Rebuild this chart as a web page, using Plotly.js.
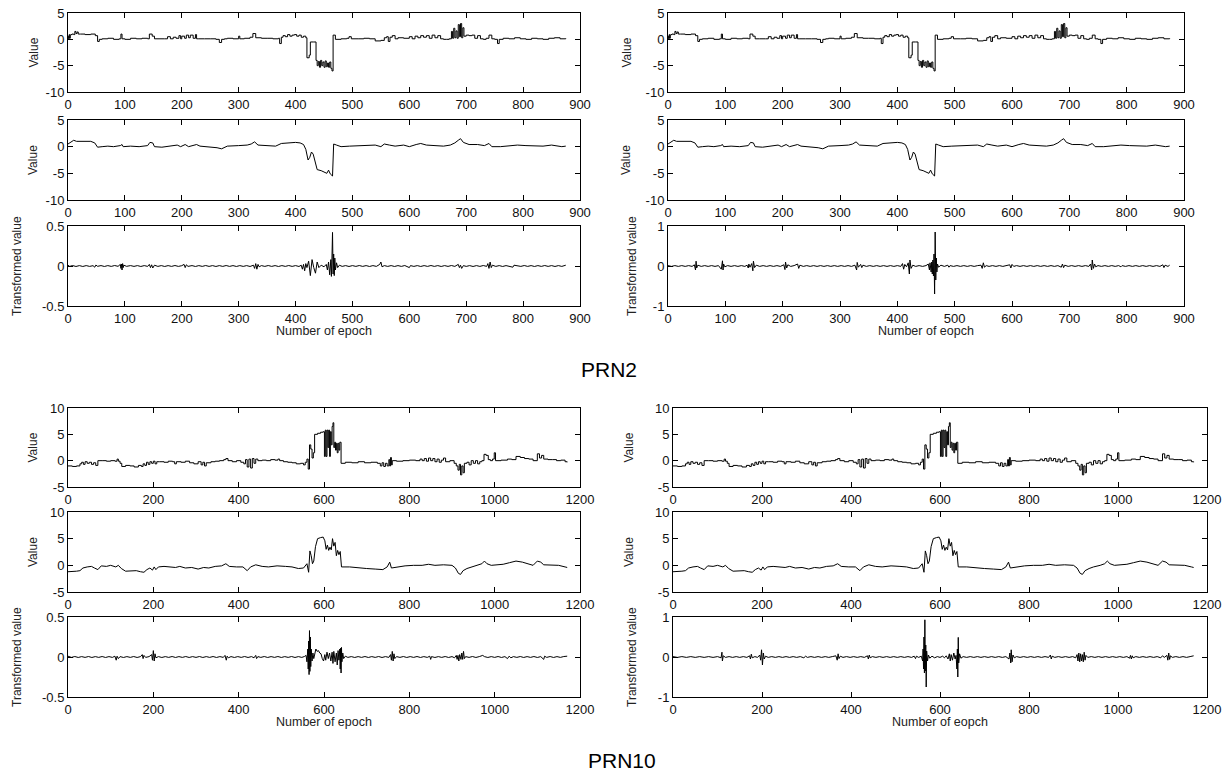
<!DOCTYPE html>
<html>
<head>
<meta charset="utf-8">
<script src="https://cdn.plot.ly/plotly-3.0.1.min.js"></script>
<style>html,body{margin:0;padding:0;background:#fff;}#chart{width:1225px;height:772px;}</style>
</head>
<body>
<div id="chart"></div>
<script>
// ---------- DATA ----------
// PRN2 raw values (epoch, value) – step-like
const prn2Raw = [[0,0.6],[1,0.1],[2,0.9],[3,0.2],[4,0.8],[5,0.9],[7,1.0],[10,0.9],[12,1.5],[14,1.1],[16,1.4],[18,1.0],[22,1.0],[30,0.9],[40,1.0],[48,0.7],[52,-0.4],[55,0.0],[60,0.1],[70,0.2],[80,0.0],[90,0.1],[93,1.0],[95,0.1],[100,0.0],[110,0.2],[120,0.1],[130,0.2],[140,0.1],[143,1.0],[148,0.6],[152,0.1],[160,0.1],[170,0.1],[175,0.5],[180,0.1],[185,0.4],[190,0.2],[195,0.7],[198,0.1],[200,0.6],[205,0.2],[208,0.8],[212,0.3],[215,0.8],[220,0.2],[224,0.9],[226,0.1],[230,0.1],[240,0.1],[250,0.1],[260,0.0],[266,-0.6],[270,0.0],[275,0.1],[280,0.2],[290,0.1],[300,0.6],[302,0.1],[310,0.2],[320,0.4],[325,1.1],[330,0.3],[340,0.2],[350,0.2],[360,0.1],[370,0.2],[372,-0.8],[375,0.4],[378,0.7],[382,0.5],[386,0.9],[390,0.6],[394,0.8],[398,0.9],[402,0.6],[406,0.8],[410,0.4],[414,0.6],[418,0.3],[420,-3.5],[424,-3.0],[426,-0.5],[432,-0.5],[436,-4.0],[438,-5.0],[440,-4.2],[442,-5.3],[444,-4.0],[446,-5.0],[448,-4.3],[450,-5.3],[452,-4.1],[454,-5.2],[456,-4.5],[458,-5.3],[460,-4.3],[462,-5.5],[464,-6.0],[466,0.8],[470,0.0],[480,0.1],[490,0.2],[494,0.5],[498,0.1],[510,0.1],[520,0.2],[530,0.1],[540,-0.3],[550,-0.2],[556,0.3],[560,0.5],[563,-0.4],[566,0.4],[570,0.7],[575,0.1],[580,0.3],[590,0.2],[600,0.5],[605,0.1],[610,0.6],[615,0.3],[620,0.7],[625,0.4],[630,0.7],[635,0.2],[640,0.8],[645,0.3],[650,0.7],[655,0.1],[660,0.0],[665,0.0],[670,0.1],[674,1.5],[676,0.2],[678,2.1],[680,0.3],[682,1.6],[684,0.2],[686,2.8],[688,0.5],[690,3.0],[692,0.3],[694,2.2],[696,0.6],[700,0.8],[705,0.7],[710,0.8],[715,0.2],[720,0.7],[725,0.1],[730,0.0],[735,0.2],[740,0.8],[745,0.1],[750,0.0],[755,-0.8],[758,0.0],[765,0.2],[775,0.1],[785,0.3],[795,0.1],[805,0.0],[815,0.2],[825,0.1],[835,0.0],[845,0.2],[855,0.3],[865,0.1],[875,0.2]];

// PRN2 smoothed values
const prn2Smooth = [[0,0.5],[5,0.9],[10,1.2],[15,1.0],[20,1.0],[30,0.9],[40,1.0],[47,0.7],[52,-0.1],[60,0.0],[70,0.1],[80,0.0],[92,0.2],[95,0.4],[97,0.0],[110,0.1],[125,0.0],[140,0.2],[144,0.8],[149,0.7],[152,0.0],[165,-0.1],[180,0.2],[192,0.3],[198,0.0],[206,0.4],[212,0.0],[220,0.3],[226,0.4],[232,0.1],[250,0.0],[262,-0.2],[270,-0.4],[280,0.1],[300,0.2],[315,0.3],[322,0.5],[328,0.9],[334,0.3],[350,0.2],[365,0.1],[375,0.6],[388,0.7],[400,0.8],[408,0.7],[414,0.4],[418,-0.5],[422,-2.5],[425,-2.0],[428,-1.0],[431,-1.4],[434,-2.8],[438,-4.3],[445,-4.5],[450,-4.8],[455,-5.0],[458,-4.4],[461,-5.1],[465,-5.5],[467,0.5],[472,0.3],[480,0.0],[495,0.1],[510,0.2],[525,0.3],[540,0.3],[550,0.0],[556,0.5],[565,0.3],[575,0.1],[590,0.3],[600,0.0],[612,0.4],[620,0.6],[630,0.3],[645,0.2],[660,0.1],[672,0.3],[680,0.7],[686,1.2],[690,1.5],[695,0.8],[705,0.4],[720,0.4],[732,0.2],[740,0.6],[745,0.0],[760,0.0],[775,0.2],[790,0.3],[805,0.2],[820,0.1],[835,0.1],[850,0.3],[860,0.2],[868,0.0],[875,0.1]];

// PRN2 transformed values (left panel)
const prn2TransL = [[0,0.01],[3,-0.005],[8,0.006],[14,-0.006],[20,0.005],[26,-0.006],[32,0.005],[38,-0.005],[44,0.004],[47,-0.015],[49,0.012],[52,-0.004],[58,0.005],[64,-0.006],[70,0.005],[76,-0.005],[82,0.006],[88,-0.004],[92,0.02],[93,-0.03],[94,0.025],[95,-0.05],[96,0.03],[97,-0.02],[98,0.01],[103,-0.004],[110,0.005],[116,-0.005],[122,0.005],[128,-0.006],[134,0.005],[140,-0.005],[143,0.02],[145,-0.02],[147,0.015],[149,-0.025],[152,0.01],[158,-0.005],[164,0.005],[170,-0.006],[176,0.005],[182,-0.005],[188,0.006],[194,-0.005],[200,0.004],[204,0.02],[206,-0.02],[208,0.015],[211,-0.005],[218,0.005],[224,-0.006],[230,0.005],[236,-0.005],[242,0.006],[248,-0.005],[254,0.005],[260,-0.006],[266,0.005],[272,-0.005],[278,0.006],[284,-0.005],[290,0.005],[296,-0.006],[302,0.005],[308,-0.005],[314,0.005],[320,-0.006],[326,0.01],[328,-0.03],[330,0.03],[332,-0.04],[334,0.02],[336,-0.01],[340,0.005],[346,-0.005],[352,0.006],[358,-0.005],[364,0.005],[370,-0.006],[376,0.005],[382,-0.005],[388,0.006],[394,-0.005],[400,0.005],[406,-0.006],[410,0.01],[412,-0.04],[414,0.02],[416,-0.06],[418,0.03],[420,-0.02],[423,0.06],[426,-0.12],[429,0.08],[432,-0.02],[435,-0.09],[438,0.05],[441,-0.02],[445,0.01],[450,-0.01],[454,0.02],[456,-0.05],[458,0.05],[460,-0.11],[462,0.08],[463,-0.13],[464,0.1],[465,0.42],[466,-0.1],[467,0.15],[468,-0.12],[469,0.1],[470,-0.05],[472,0.04],[474,-0.02],[477,0.01],[482,-0.005],[488,0.005],[494,-0.006],[500,0.005],[506,-0.005],[512,0.006],[518,-0.005],[524,0.005],[530,-0.006],[536,0.005],[542,-0.005],[548,0.02],[550,0.05],[552,-0.01],[556,0.005],[562,-0.005],[568,0.005],[574,-0.006],[580,0.005],[586,-0.005],[592,0.006],[598,-0.01],[600,-0.02],[602,0.005],[608,-0.005],[614,0.005],[620,-0.006],[626,0.005],[632,-0.005],[638,0.006],[644,-0.005],[650,0.005],[656,-0.006],[662,0.005],[668,-0.005],[674,0.006],[680,-0.005],[686,0.02],[688,-0.02],[690,0.01],[692,-0.03],[695,0.005],[700,-0.005],[706,0.005],[712,-0.006],[718,0.005],[724,-0.005],[730,0.006],[736,-0.005],[738,0.03],[740,-0.03],[742,0.05],[744,-0.02],[746,0.01],[752,-0.005],[758,0.005],[764,-0.006],[770,0.005],[776,-0.005],[782,-0.015],[784,0.01],[790,0.005],[796,-0.005],[802,0.006],[808,-0.005],[814,0.005],[820,-0.006],[826,0.005],[832,-0.005],[838,0.006],[844,-0.005],[850,0.005],[856,-0.006],[862,0.005],[868,-0.005],[875,0.01]];

// PRN2 transformed values (right panel)
const prn2TransR = [[0,0.01],[6,-0.01],[12,0.01],[18,-0.01],[24,0.01],[30,-0.01],[36,0.01],[42,-0.01],[46,0.03],[48,-0.1],[49,0.12],[50,-0.05],[52,0.02],[58,-0.01],[64,0.01],[70,-0.01],[76,0.01],[82,-0.01],[88,0.01],[93,-0.08],[95,0.13],[96,-0.1],[97,0.05],[99,-0.02],[104,0.01],[110,-0.01],[116,0.01],[122,-0.01],[128,0.01],[134,-0.01],[138,0.02],[140,-0.05],[141,0.05],[143,-0.03],[146,0.06],[148,-0.12],[149,0.12],[151,-0.04],[154,0.02],[160,-0.01],[166,0.01],[172,-0.01],[178,0.01],[184,-0.01],[190,0.01],[196,-0.01],[202,0.03],[204,-0.09],[205,0.1],[207,-0.05],[209,0.03],[214,-0.01],[220,0.01],[226,0.05],[228,-0.06],[230,0.02],[236,-0.01],[242,0.01],[248,-0.01],[254,0.01],[260,-0.01],[266,0.01],[272,-0.01],[278,0.01],[284,-0.01],[290,0.01],[296,-0.01],[302,0.01],[308,-0.01],[314,0.01],[320,-0.01],[326,0.02],[329,-0.1],[330,0.09],[332,-0.03],[336,0.04],[338,-0.04],[340,0.02],[346,-0.01],[352,0.01],[358,-0.01],[364,0.01],[370,-0.01],[376,0.01],[382,-0.01],[388,0.01],[394,-0.01],[400,0.01],[406,-0.01],[409,0.06],[411,-0.08],[413,0.04],[416,-0.02],[419,0.08],[421,-0.2],[422,0.15],[424,-0.06],[427,0.02],[432,-0.01],[438,0.01],[444,-0.01],[450,0.01],[454,0.05],[456,-0.1],[457,0.08],[459,-0.15],[460,0.1],[461,-0.2],[462,0.15],[463,-0.25],[464,0.3],[465,-0.7],[466,0.85],[467,-0.35],[468,0.2],[469,-0.15],[470,0.05],[472,-0.03],[476,0.02],[482,-0.01],[488,0.02],[490,-0.03],[492,0.01],[498,-0.01],[504,0.01],[510,-0.01],[516,0.01],[522,-0.01],[528,0.01],[534,-0.01],[540,0.01],[546,0.02],[548,-0.06],[550,0.08],[552,-0.03],[555,0.01],[560,-0.01],[566,0.01],[572,-0.01],[578,0.01],[584,-0.01],[590,0.01],[596,0.03],[598,-0.05],[600,0.04],[603,-0.01],[608,0.01],[614,-0.01],[620,0.01],[626,-0.01],[632,0.01],[638,-0.01],[644,0.01],[650,-0.01],[656,0.01],[662,-0.01],[668,0.01],[674,-0.01],[680,0.01],[686,-0.03],[688,0.05],[690,-0.04],[692,0.02],[698,-0.01],[704,0.01],[710,-0.01],[716,0.01],[722,-0.01],[728,0.01],[734,-0.01],[737,0.05],[739,-0.1],[740,0.15],[742,-0.06],[744,0.05],[746,-0.02],[750,0.01],[756,-0.01],[762,0.01],[768,-0.01],[774,0.01],[780,-0.01],[786,0.01],[790,-0.02],[792,0.01],[798,-0.01],[804,0.01],[810,-0.01],[816,0.01],[822,-0.01],[828,0.01],[834,-0.01],[840,0.01],[846,-0.01],[852,0.01],[858,-0.01],[863,0.03],[865,-0.04],[867,0.02],[872,-0.01],[875,0.02]];

// PRN10 raw values – step-like
const prn10Raw = [[0,-1.0],[10,-1.1],[20,-1.0],[28,-0.6],[32,-0.3],[36,-0.7],[40,-0.2],[45,-0.5],[50,-0.3],[55,-0.7],[60,-0.4],[65,-0.9],[70,0.0],[80,0.0],[90,-0.1],[100,0.0],[110,-0.1],[115,0.3],[118,-0.1],[122,-0.5],[126,-1.1],[135,-0.9],[145,-1.0],[155,-1.2],[165,-0.9],[172,-1.1],[176,-0.6],[180,-0.9],[184,-0.3],[188,-0.7],[192,-0.2],[196,-0.5],[200,-0.1],[204,-0.6],[208,-0.2],[215,-0.2],[225,-0.3],[235,-0.1],[245,-0.2],[250,-0.6],[254,-0.2],[265,-0.3],[275,-0.1],[285,-0.4],[295,-0.6],[305,-0.2],[312,-0.8],[316,-0.3],[320,-1.0],[324,-0.4],[335,-0.2],[345,-0.1],[355,0.0],[365,0.2],[370,0.4],[375,0.0],[385,-0.2],[395,0.0],[405,-0.3],[412,-0.6],[416,0.2],[420,-1.2],[424,0.3],[428,-1.4],[432,0.4],[436,-0.5],[440,0.3],[445,0.0],[455,0.1],[465,0.0],[475,0.2],[485,0.1],[492,0.3],[496,0.0],[505,-0.2],[515,-0.3],[525,-0.4],[535,-0.6],[545,-0.5],[552,-0.8],[556,-0.3],[560,0.3],[563,-1.6],[566,3.0],[569,2.2],[572,0.5],[575,1.5],[578,5.0],[585,5.2],[592,5.4],[598,5.5],[601,0.8],[603,5.8],[605,0.8],[607,5.8],[609,2.5],[611,5.8],[613,0.8],[615,5.5],[617,3.0],[619,6.5],[621,7.2],[623,2.5],[625,3.5],[627,2.0],[629,3.3],[631,1.5],[633,3.3],[635,2.0],[637,3.5],[640,-0.5],[650,-0.3],[665,-0.4],[680,-0.2],[695,-0.4],[710,-0.3],[725,-0.5],[732,-1.0],[736,-0.4],[740,-1.1],[744,-0.5],[748,-1.0],[752,0.2],[754,-1.0],[756,0.6],[758,-0.8],[760,0.0],[770,-0.1],[785,0.0],[800,0.1],[815,0.0],[825,0.3],[830,0.0],[835,0.4],[840,-0.1],[845,0.5],[850,0.0],[855,0.4],[860,-0.2],[865,0.3],[870,-0.3],[875,0.1],[880,0.5],[885,-0.2],[895,0.0],[905,-0.5],[910,-1.0],[914,-1.8],[917,-0.7],[920,-2.7],[923,-1.0],[926,-2.3],[929,-0.5],[935,-0.3],[940,-0.8],[945,0.0],[950,-0.5],[955,0.0],[960,-0.6],[965,-0.2],[970,0.0],[975,1.2],[980,1.0],[985,0.2],[990,0.0],[995,0.3],[999,1.5],[1002,0.0],[1015,0.1],[1030,0.3],[1040,0.2],[1050,0.8],[1060,0.6],[1070,0.4],[1080,0.3],[1090,0.0],[1100,1.3],[1105,0.5],[1110,1.0],[1115,0.3],[1125,0.2],[1135,0.2],[1145,0.0],[1155,0.1],[1165,-0.2],[1170,-0.3]];

// PRN10 smoothed values
const prn10Smooth = [[0,-1.2],[10,-1.2],[20,-1.1],[28,-1.0],[35,-0.5],[45,-0.3],[55,-0.2],[62,-0.5],[70,-0.8],[78,-0.1],[90,-0.2],[100,0.0],[112,-0.3],[118,0.0],[125,-0.6],[135,-1.1],[150,-1.1],[160,-1.0],[170,-1.2],[178,-1.3],[185,-0.8],[192,-0.5],[198,-0.9],[202,-0.3],[206,-0.8],[212,-0.3],[225,-0.2],[240,-0.3],[252,-0.4],[262,-0.2],[275,-0.5],[290,-0.4],[305,-0.7],[318,-0.4],[330,-0.5],[345,-0.2],[360,-0.1],[370,0.3],[378,-0.2],[395,-0.3],[410,-0.3],[420,-1.0],[428,-0.3],[440,0.1],[455,-0.2],[470,-0.3],[490,-0.1],[510,-0.2],[525,-0.3],[540,-0.6],[552,-0.5],[560,0.3],[564,-1.3],[567,2.7],[570,1.8],[573,0.3],[576,0.8],[580,3.5],[585,5.0],[592,5.2],[598,5.3],[602,4.6],[605,3.0],[608,3.8],[611,2.8],[614,3.4],[617,2.9],[620,5.0],[623,3.6],[626,4.3],[629,1.8],[632,2.8],[635,2.0],[638,2.6],[641,-0.3],[660,-0.3],[680,-0.5],[700,-0.6],[720,-0.7],[738,-0.8],[748,-0.3],[754,0.6],[758,-0.5],[770,-0.3],[790,-0.1],[810,0.0],[830,0.0],[845,0.2],[860,0.0],[880,0.1],[900,0.0],[908,-0.5],[915,-1.5],[920,-1.7],[926,-1.0],[935,-0.6],[945,-0.3],[960,0.0],[970,0.3],[976,0.8],[982,0.3],[992,0.0],[1005,0.1],[1020,0.2],[1035,0.5],[1050,0.8],[1065,0.6],[1080,0.3],[1090,0.0],[1100,0.8],[1108,0.6],[1115,0.1],[1130,0.1],[1150,0.0],[1165,-0.3],[1170,-0.4]];

// PRN10 transformed values (left panel)
const prn10TransL = [[0,0.01],[8,-0.005],[16,0.006],[24,-0.006],[32,0.005],[40,-0.005],[48,0.006],[56,-0.006],[64,0.005],[72,-0.005],[80,0.006],[88,-0.006],[96,0.005],[104,-0.005],[110,0.01],[113,-0.04],[115,0.01],[118,-0.02],[122,0.005],[130,-0.006],[138,0.005],[146,-0.005],[154,0.006],[162,-0.006],[170,0.005],[174,0.03],[176,-0.02],[178,0.02],[182,-0.005],[190,0.005],[196,0.03],[198,-0.04],[200,0.08],[202,-0.05],[204,0.04],[206,-0.01],[212,0.005],[220,-0.006],[228,0.005],[236,-0.005],[244,0.006],[252,-0.006],[260,0.005],[268,-0.005],[276,0.006],[284,-0.006],[292,0.005],[300,-0.005],[308,0.006],[316,-0.006],[324,0.005],[332,-0.005],[340,0.006],[348,-0.006],[356,0.005],[364,-0.005],[368,0.02],[371,-0.04],[373,0.01],[376,-0.01],[382,0.005],[390,-0.006],[398,0.005],[406,-0.005],[414,0.006],[422,-0.006],[430,0.005],[436,-0.01],[440,0.02],[442,-0.02],[445,0.005],[452,-0.005],[460,0.006],[468,-0.006],[476,0.005],[484,-0.005],[492,0.006],[500,-0.006],[508,0.005],[516,-0.005],[524,0.006],[532,-0.006],[540,0.005],[548,-0.005],[554,0.006],[558,0.02],[560,-0.06],[562,0.1],[563,-0.15],[564,0.2],[565,-0.22],[566,0.33],[567,-0.18],[568,0.25],[569,-0.12],[570,0.1],[572,-0.05],[574,0.05],[576,-0.02],[578,0.03],[581,0.1],[584,0.07],[587,0.08],[590,0.05],[593,0.04],[596,-0.02],[599,-0.05],[602,0.03],[604,-0.04],[607,0.06],[610,-0.02],[613,0.05],[616,-0.05],[619,0.06],[621,-0.08],[623,0.07],[626,-0.06],[629,0.05],[631,-0.1],[633,0.08],[635,-0.04],[637,0.1],[638,-0.15],[639,0.11],[640,-0.2],[641,0.12],[642,-0.06],[644,0.05],[646,-0.02],[650,0.01],[656,-0.005],[664,0.005],[672,-0.006],[680,0.005],[688,-0.005],[696,0.006],[704,-0.006],[712,0.005],[720,-0.005],[728,0.006],[736,-0.006],[744,0.005],[752,-0.005],[756,0.03],[758,-0.04],[760,0.07],[762,-0.05],[764,0.04],[766,-0.02],[770,0.005],[778,-0.005],[786,0.006],[794,-0.006],[802,0.005],[810,-0.005],[818,0.006],[826,-0.006],[834,0.005],[842,-0.005],[848,0.01],[850,-0.03],[852,0.005],[860,-0.006],[868,0.005],[876,-0.005],[884,0.006],[892,-0.006],[900,0.005],[906,-0.01],[910,0.02],[912,-0.03],[914,0.02],[916,-0.05],[918,0.03],[921,-0.03],[923,0.05],[925,-0.03],[927,0.07],[929,-0.02],[932,0.005],[940,-0.005],[948,0.006],[956,-0.006],[964,0.005],[972,0.02],[976,0.005],[984,-0.006],[992,0.005],[1000,-0.005],[1008,0.006],[1016,-0.006],[1024,0.005],[1030,-0.02],[1034,0.01],[1038,-0.01],[1044,0.005],[1052,-0.005],[1060,0.006],[1068,-0.006],[1076,0.005],[1084,-0.005],[1092,0.006],[1100,-0.006],[1108,0.005],[1113,-0.02],[1115,-0.03],[1117,0.01],[1122,-0.005],[1130,0.006],[1138,-0.006],[1146,0.005],[1154,-0.005],[1162,0.006],[1170,0.01]];

// PRN10 transformed values (right panel)
const prn10TransR = [[0,0.01],[10,-0.01],[20,0.01],[30,-0.01],[40,0.01],[50,-0.01],[60,0.01],[70,-0.01],[80,0.01],[90,-0.01],[100,0.01],[108,-0.02],[110,0.12],[111,-0.1],[113,0.03],[118,-0.01],[126,0.01],[134,-0.01],[142,0.01],[150,-0.01],[158,0.01],[166,-0.01],[172,0.03],[174,-0.05],[176,0.07],[178,-0.02],[184,0.01],[190,-0.01],[195,0.05],[197,-0.08],[199,0.18],[201,-0.2],[203,0.1],[205,-0.05],[208,0.02],[214,-0.01],[222,0.01],[230,-0.01],[238,0.01],[246,-0.01],[254,0.01],[262,-0.01],[270,0.01],[278,-0.01],[286,0.01],[294,-0.02],[298,0.02],[302,-0.01],[310,0.01],[318,-0.01],[326,0.01],[334,-0.01],[342,0.01],[350,-0.01],[358,0.01],[366,0.03],[369,-0.08],[371,0.08],[373,-0.04],[376,0.02],[382,-0.01],[390,0.01],[398,-0.01],[406,0.01],[414,-0.01],[422,0.01],[430,-0.01],[437,0.03],[439,-0.05],[441,0.05],[443,-0.02],[448,0.01],[456,-0.01],[464,0.01],[472,-0.01],[480,0.01],[488,-0.01],[496,0.01],[504,-0.01],[512,0.01],[520,-0.01],[528,0.01],[536,-0.01],[542,0.02],[545,-0.04],[547,0.02],[552,-0.01],[558,0.02],[561,-0.1],[562,0.2],[563,-0.3],[564,0.5],[565,-0.4],[566,0.93],[567,-0.35],[568,0.3],[569,-0.75],[570,0.15],[572,-0.1],[574,0.05],[577,-0.03],[582,0.02],[588,-0.02],[594,0.01],[600,-0.01],[606,0.02],[610,-0.02],[614,0.03],[618,-0.05],[621,0.08],[623,-0.1],[625,0.06],[628,-0.08],[631,0.1],[634,-0.05],[636,0.04],[638,-0.3],[639,0.2],[640,-0.5],[641,0.49],[642,-0.15],[644,0.08],[647,-0.03],[652,0.01],[660,-0.01],[668,0.01],[676,-0.01],[684,0.01],[692,-0.01],[700,0.01],[708,-0.01],[716,0.01],[724,-0.01],[732,0.01],[740,-0.01],[748,0.01],[755,-0.05],[757,0.1],[759,-0.15],[760,0.18],[762,-0.12],[764,0.05],[767,-0.02],[772,0.01],[780,-0.01],[788,0.01],[796,-0.01],[804,0.01],[812,-0.01],[820,0.01],[828,-0.01],[836,0.01],[844,-0.01],[848,0.05],[850,-0.05],[852,0.02],[858,-0.01],[866,0.01],[874,-0.01],[882,0.01],[890,-0.01],[898,0.01],[905,-0.02],[908,0.06],[910,-0.1],[912,0.1],[914,-0.12],[916,0.08],[918,-0.1],[920,0.06],[922,-0.12],[924,0.12],[926,-0.08],[928,0.04],[932,-0.01],[940,0.01],[948,-0.01],[956,0.01],[964,-0.01],[972,0.01],[980,-0.01],[988,0.01],[996,-0.01],[1004,0.01],[1012,-0.01],[1020,0.01],[1026,-0.03],[1028,0.04],[1030,-0.05],[1032,0.03],[1034,-0.02],[1040,0.01],[1048,-0.01],[1056,0.01],[1064,-0.01],[1072,0.01],[1080,-0.01],[1088,0.01],[1096,-0.02],[1100,0.03],[1104,-0.01],[1110,0.04],[1112,-0.08],[1114,0.1],[1116,-0.06],[1118,0.03],[1122,-0.01],[1130,0.01],[1138,-0.01],[1146,0.01],[1154,-0.01],[1162,0.01],[1170,0.03]];

// Tick values / labels
const xTicks900 = [0,100,200,300,400,500,600,700,800,900];
const xTicks1200 = [0,200,400,600,800,1000,1200];
const yTicksPrn2 = [-10,-5,0,5];
const yLabelsPrn2 = ['-10','-5','0','5'];
const yTicksPrn10 = [-5,0,5,10];
const yLabelsPrn10 = ['-5','0','5','10'];
const yTicksHalf = [-0.5,0,0.5];
const yLabelsHalf = ['-0.5','0','0.5'];
const yTicksOne = [-1,0,1];
const yLabelsOne = ['-1','0','1'];

const groupLabels = ['PRN2','PRN10'];
const xTitleLeft = 'Number of epoch';
const xTitleRight = 'Number of eopch';
const yTitleValue = 'Value';
const yTitleTrans = 'Transformed value';

// ---------- LAYOUT ----------
const W = 1225, H = 772;
const FONT = 'Arial, "Liberation Sans", Helvetica, sans-serif';
const px = v => v / W;
const py = v => 1 - v / H;

const colL = [68, 580];
const colRtop = [668, 1184];
const colRbot = [673, 1207];
const rows = [[13,92],[120,200],[226,306],[408,487],[512,592],[617,697]];

const panels = [
  {col: colL, row: rows[0], data: prn2Raw, shape: 'hv', xr: [0,900], xt: xTicks900, yr: [-10,5], yt: yTicksPrn2, yl: yLabelsPrn2},
  {col: colL, row: rows[1], data: prn2Smooth, shape: 'linear', xr: [0,900], xt: xTicks900, yr: [-10,5], yt: yTicksPrn2, yl: yLabelsPrn2},
  {col: colL, row: rows[2], data: prn2TransL, shape: 'linear', xr: [0,900], xt: xTicks900, yr: [-0.5,0.5], yt: yTicksHalf, yl: yLabelsHalf},
  {col: colL, row: rows[3], data: prn10Raw, shape: 'hv', xr: [0,1200], xt: xTicks1200, yr: [-5,10], yt: yTicksPrn10, yl: yLabelsPrn10},
  {col: colL, row: rows[4], data: prn10Smooth, shape: 'linear', xr: [0,1200], xt: xTicks1200, yr: [-5,10], yt: yTicksPrn10, yl: yLabelsPrn10},
  {col: colL, row: rows[5], data: prn10TransL, shape: 'linear', xr: [0,1200], xt: xTicks1200, yr: [-0.5,0.5], yt: yTicksHalf, yl: yLabelsHalf},
  {col: colRtop, row: rows[0], data: prn2Raw, shape: 'hv', xr: [0,900], xt: xTicks900, yr: [-10,5], yt: yTicksPrn2, yl: yLabelsPrn2},
  {col: colRtop, row: rows[1], data: prn2Smooth, shape: 'linear', xr: [0,900], xt: xTicks900, yr: [-10,5], yt: yTicksPrn2, yl: yLabelsPrn2},
  {col: colRtop, row: rows[2], data: prn2TransR, shape: 'linear', xr: [0,900], xt: xTicks900, yr: [-1,1], yt: yTicksOne, yl: yLabelsOne},
  {col: colRbot, row: rows[3], data: prn10Raw, shape: 'hv', xr: [0,1200], xt: xTicks1200, yr: [-5,10], yt: yTicksPrn10, yl: yLabelsPrn10},
  {col: colRbot, row: rows[4], data: prn10Smooth, shape: 'linear', xr: [0,1200], xt: xTicks1200, yr: [-5,10], yt: yTicksPrn10, yl: yLabelsPrn10},
  {col: colRbot, row: rows[5], data: prn10TransR, shape: 'linear', xr: [0,1200], xt: xTicks1200, yr: [-1,1], yt: yTicksOne, yl: yLabelsOne}
];

const traces = [];
const layout = {
  width: W, height: H,
  margin: {l:0, r:0, t:0, b:0},
  paper_bgcolor: '#fff', plot_bgcolor: '#fff',
  showlegend: false,
  font: {family: FONT, color: '#000'},
  annotations: []
};

const axisCommon = {
  showline: true, linecolor: '#000', linewidth: 1, mirror: 'ticks',
  ticks: 'inside', ticklen: 5, tickwidth: 1, tickcolor: '#000',
  showgrid: false, zeroline: false, automargin: false, fixedrange: true,
  tickfont: {family: FONT, size: 13, color: '#111'}
};

panels.forEach((p, i) => {
  const n = i + 1;
  const sfx = n === 1 ? '' : String(n);
  traces.push({
    x: p.data.map(d => d[0]), y: p.data.map(d => d[1]),
    type: 'scatter', mode: 'lines',
    line: {color: '#000', width: 1, shape: p.shape},
    xaxis: 'x' + sfx, yaxis: 'y' + sfx,
    hoverinfo: 'skip'
  });
  layout['xaxis' + sfx] = Object.assign({}, axisCommon, {
    domain: [px(p.col[0]), px(p.col[1])], range: p.xr,
    tickmode: 'array', tickvals: p.xt, ticktext: p.xt.map(String),
    anchor: 'y' + sfx
  });
  layout['yaxis' + sfx] = Object.assign({}, axisCommon, {
    domain: [py(p.row[1]), py(p.row[0])], range: p.yr,
    tickmode: 'array', tickvals: p.yt, ticktext: p.yl,
    anchor: 'x' + sfx
  });
});

const yTitles = [
  {x: 33, row: rows[0], t: yTitleValue}, {x: 33, row: rows[1], t: yTitleValue}, {x: 17, row: rows[2], t: yTitleTrans},
  {x: 33, row: rows[3], t: yTitleValue}, {x: 33, row: rows[4], t: yTitleValue}, {x: 17, row: rows[5], t: yTitleTrans},
  {x: 626, row: rows[0], t: yTitleValue}, {x: 626, row: rows[1], t: yTitleValue}, {x: 632, row: rows[2], t: yTitleTrans},
  {x: 629, row: rows[3], t: yTitleValue}, {x: 629, row: rows[4], t: yTitleValue}, {x: 632, row: rows[5], t: yTitleTrans}
];
yTitles.forEach(o => layout.annotations.push({
  xref: 'paper', yref: 'paper', x: px(o.x), y: py((o.row[0] + o.row[1]) / 2),
  text: o.t, showarrow: false, textangle: -90, xanchor: 'center', yanchor: 'middle',
  font: {family: FONT, size: 12, color: '#222'}
}));

const xTitles = [
  {x: (colL[0] + colL[1]) / 2, y: 331, t: xTitleLeft},
  {x: (colRtop[0] + colRtop[1]) / 2, y: 331, t: xTitleRight},
  {x: (colL[0] + colL[1]) / 2, y: 722, t: xTitleLeft},
  {x: (colRbot[0] + colRbot[1]) / 2, y: 722, t: xTitleRight}
];
xTitles.forEach(o => layout.annotations.push({
  xref: 'paper', yref: 'paper', x: px(o.x), y: py(o.y),
  text: o.t, showarrow: false, xanchor: 'center', yanchor: 'middle',
  font: {family: FONT, size: 12.5, color: '#222'}
}));

layout.annotations.push({xref: 'paper', yref: 'paper', x: px(609), y: py(370), text: groupLabels[0],
  showarrow: false, xanchor: 'center', yanchor: 'middle', font: {family: FONT, size: 21, color: '#000'}});
layout.annotations.push({xref: 'paper', yref: 'paper', x: px(622), y: py(760), text: groupLabels[1],
  showarrow: false, xanchor: 'center', yanchor: 'middle', font: {family: FONT, size: 21, color: '#000'}});

Plotly.newPlot('chart', traces, layout, {staticPlot: true, displayModeBar: false});
</script>
</body>
</html>
